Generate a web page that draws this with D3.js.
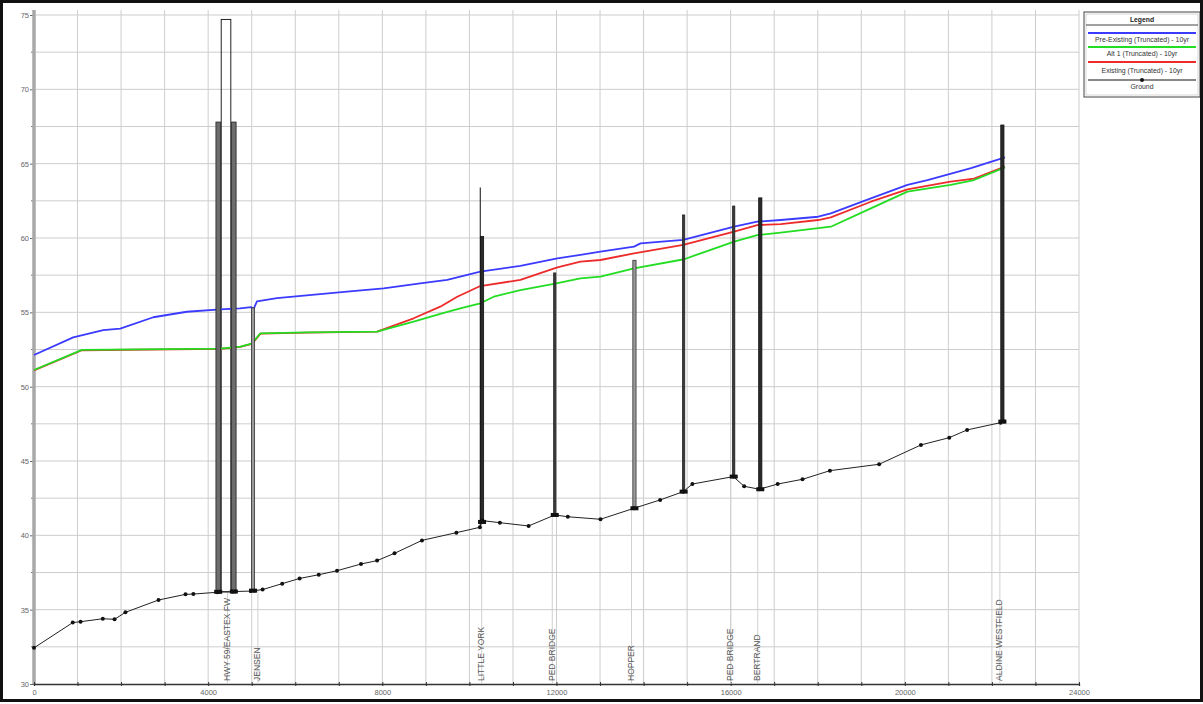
<!DOCTYPE html>
<html>
<head>
<meta charset="utf-8">
<script src="https://cdn.jsdelivr.net/npm/d3@7"></script>
<style>
  body { margin: 0; background: #fff; }
  svg { display: block; font-family: "Liberation Sans", Arial, sans-serif; }
</style>
</head>
<body>
<svg id="chart" width="1203" height="704"></svg>
<script>
// ---- Profile data (station in ft, elevation in ft) ----
const groundSta  = [0, 890, 1070, 1580, 1850, 2100, 2860, 3480, 3660, 4210, 4250, 4560, 4620, 4980, 5060, 5250, 5700, 6100, 6540, 6960, 7510, 7880, 8280, 8910, 9700, 10240, 10300, 10700, 11360, 11960, 12260, 13010, 13780, 14380, 14910, 15120, 16060, 16310, 16660, 17080, 17650, 18280, 19410, 20370, 21020, 21430, 22200, 22280];
const groundElev = [32.43, 34.13, 34.19, 34.39, 34.35, 34.82, 35.65, 36.03, 36.05, 36.17, 36.2, 36.2, 36.22, 36.25, 36.28, 36.35, 36.75, 37.1, 37.35, 37.62, 38.07, 38.3, 38.79, 39.66, 40.18, 40.54, 40.99, 40.85, 40.63, 41.37, 41.25, 41.08, 41.82, 42.38, 42.94, 43.45, 43.95, 43.3, 43.1, 43.45, 43.77, 44.35, 44.78, 46.08, 46.57, 47.09, 47.58, 47.65];

const preSta  = [0, 900, 1590, 1980, 2740, 3510, 4280, 4730, 4990, 5040, 5120, 5580, 7190, 8030, 8870, 9490, 10250, 11170, 12020, 12550, 13010, 13780, 13930, 14910, 16080, 16610, 17150, 18010, 18300, 19220, 20060, 20520, 21520, 22300];
const preElev = [52.13, 53.32, 53.81, 53.9, 54.67, 55.04, 55.2, 55.27, 55.35, 55.2, 55.73, 55.95, 56.39, 56.61, 56.95, 57.18, 57.74, 58.12, 58.63, 58.86, 59.08, 59.42, 59.64, 59.87, 60.76, 61.1, 61.21, 61.43, 61.66, 62.67, 63.57, 63.9, 64.7, 65.42];

const altSta  = [0, 1100, 4280, 4740, 5000, 5040, 5200, 6270, 7880, 8720, 9330, 9790, 10250, 10560, 11170, 11940, 12550, 13010, 13780, 14930, 15310, 16080, 16610, 17150, 18300, 19220, 20060, 21050, 21590, 22300];
const altElev = [51.12, 52.47, 52.56, 52.69, 52.9, 53.03, 53.59, 53.65, 53.7, 54.37, 54.89, 55.27, 55.61, 56.05, 56.5, 56.91, 57.29, 57.4, 57.96, 58.57, 58.97, 59.75, 60.2, 60.36, 60.76, 61.99, 63.12, 63.57, 63.9, 64.75];

const exSta  = [0, 1100, 4280, 4740, 5000, 5040, 5200, 6270, 7880, 8720, 9330, 9720, 10250, 11170, 12020, 12550, 13010, 13780, 14910, 16080, 16610, 17150, 18010, 18300, 19220, 20060, 21050, 21590, 22300];
const exElev = [51.1, 52.45, 52.54, 52.67, 52.88, 53.0, 53.57, 53.63, 53.7, 54.6, 55.38, 56.05, 56.77, 57.18, 58.03, 58.41, 58.52, 58.97, 59.53, 60.43, 60.87, 60.94, 61.21, 61.39, 62.44, 63.27, 63.79, 64.0, 64.8];

// ---- Crossing structures (deck lines) ----
const deckSta    = [4230, 4590, 5030, 10290, 11960, 13790, 14920, 16070, 16680, 22240];
const deckTop    = [67.8, 67.8, 55.3, 60.1, 57.65, 58.5, 61.55, 62.15, 62.7, 67.6];
const deckBottom = [36.2, 36.22, 36.28, 40.9, 41.37, 41.82, 42.94, 43.95, 43.1, 47.65];
const deckKind   = ["wide", "wide", "grey", "heavy", "thin", "grey", "thin", "thin", "heavy", "heavy"];

// outline of the freeway crossing between the two piers
const hwyBox = { from: 4300, to: 4520, top: 74.7, bottom: 36.2 };
// tall rail over the Little York crossing
const lyRail = { sta: 10250, top: 63.4, bottom: 40.6 };

// labels along the bottom of the profile
const labelText = ["HWY 59/EASTEX FW", "JENSEN", "LITTLE YORK", "PED BRIDGE", "HOPPER", "PED BRIDGE", "BERTRAND", "ALDINE WESTFIELD"];
const labelSta  = [4500, 5200, 10340, 11960, 13780, 16060, 16680, 22240];
const labelGround = [36.2, 36.35, 40.99, 41.37, 41.82, 43.95, 43.1, 47.65];

const xTicks = [0, 4000, 8000, 12000, 16000, 20000, 24000];
const yTicks = [30, 35, 40, 45, 50, 55, 60, 65, 70, 75];

const legendLabels = ["Pre-Existing (Truncated) - 10yr", "Alt 1 (Truncated) - 10yr", "Existing (Truncated) - 10yr", "Ground"];
const legendColors = ["#3b3bff", "#22dd22", "#ee2b2b", "#111"];

// ---- Drawing ----
const svg = d3.select("#chart");
const x = d3.scaleLinear([0, 24000], [34, 1079]);
const y = d3.scaleLinear([30, 75], [684, 15]);
const plotTop = 10;

svg.append("rect").attr("width", 1203).attr("height", 704).attr("fill", "#fff");

// grid
const grid = svg.append("g").attr("stroke", "#cdcdcd").attr("stroke-width", 1);
grid.selectAll(".vg").data(d3.range(1000, 24001, 1000)).join("line")
  .attr("x1", d => x(d)).attr("x2", d => x(d))
  .attr("y1", plotTop).attr("y2", y(30));
grid.selectAll(".hg").data(d3.range(32.5, 75.1, 2.5)).join("line")
  .attr("x1", x(0)).attr("x2", x(24000))
  .attr("y1", d => y(d)).attr("y2", d => y(d));

// axes
const yAxis = svg.append("g").attr("transform", `translate(${x(0)},0)`)
  .call(d3.axisLeft(y).tickValues(yTicks).tickSize(4).tickFormat(d3.format("d")));
yAxis.select(".domain").remove();
yAxis.selectAll("line").attr("stroke", "#666");
yAxis.selectAll("text").attr("fill", "#666").attr("font-size", 7.5).attr("x", -5);
svg.append("g").attr("fill", "#777").selectAll("rect").data(d3.range(32.5, 75, 5)).join("rect")
  .attr("x", x(0) - 3).attr("y", d => y(d) - 0.5).attr("width", 3).attr("height", 1);
svg.append("line").attr("x1", x(0)).attr("x2", x(0)).attr("y1", plotTop).attr("y2", y(30))
  .attr("stroke", "#a8a8a8").attr("stroke-width", 3.5);

const xAxis = svg.append("g").attr("transform", `translate(0,${y(30)})`)
  .call(d3.axisBottom(x).tickValues(d3.range(0, 24001, 1000)).tickSize(2).tickFormat(d => xTicks.includes(d) ? d : ""));
xAxis.select(".domain").attr("stroke", "#333").attr("stroke-width", 1.3);
xAxis.selectAll("line").attr("stroke", "#333").attr("y1", -2);
xAxis.selectAll("text").attr("fill", "#666").attr("font-size", 7.5).attr("y", 6);

// station label guide lines and rotated labels
const labs = svg.append("g");
labs.selectAll("line").data(labelSta).join("line")
  .attr("x1", d => x(d) - 2.5).attr("x2", d => x(d) - 2.5)
  .attr("y1", (d, i) => y(labelGround[i])).attr("y2", y(30))
  .attr("stroke", "#d0d0d0").attr("stroke-width", 1);
labs.selectAll("text").data(labelText).join("text")
  .attr("transform", (d, i) => `translate(${x(labelSta[i])},${y(30) - 3}) rotate(-90)`)
  .attr("font-size", 8.5).attr("fill", "#555").attr("text-anchor", "start")
  .text(d => d);

// freeway crossing outline
svg.append("rect")
  .attr("x", x(hwyBox.from)).attr("y", y(hwyBox.top))
  .attr("width", x(hwyBox.to) - x(hwyBox.from)).attr("height", y(hwyBox.bottom) - y(hwyBox.top))
  .attr("fill", "none").attr("stroke", "#222").attr("stroke-width", 1);

// water surface profiles
const line = d3.line().x(d => x(d[0])).y(d => y(d[1]));
const profiles = [
  { sta: exSta, elev: exElev, color: legendColors[2] },
  { sta: altSta, elev: altElev, color: legendColors[1] },
  { sta: preSta, elev: preElev, color: legendColors[0] }
];
profiles.forEach(p => {
  svg.append("path").datum(d3.zip(p.sta, p.elev)).attr("d", line)
    .attr("fill", "none").attr("stroke", p.color).attr("stroke-width", 1.8)
    .attr("stroke-linejoin", "round");
});

// crossing structures
const kindStyle = {
  wide:  { w: 4.5, fill: "#6d6d6d", stroke: "#222" },
  grey:  { w: 3.2, fill: "#9a9a9a", stroke: "#333" },
  heavy: { w: 3.2, fill: "#2a2a2a", stroke: "#111" },
  thin:  { w: 2.2, fill: "#3a3a3a", stroke: "#222" }
};
svg.append("line")
  .attr("x1", x(lyRail.sta)).attr("x2", x(lyRail.sta))
  .attr("y1", y(lyRail.top)).attr("y2", y(lyRail.bottom))
  .attr("stroke", "#333").attr("stroke-width", 1.2);
svg.append("g").selectAll("rect").data(deckSta).join("rect")
  .attr("x", (d, i) => x(d) - kindStyle[deckKind[i]].w / 2)
  .attr("y", (d, i) => y(deckTop[i]))
  .attr("width", (d, i) => kindStyle[deckKind[i]].w)
  .attr("height", (d, i) => y(deckBottom[i]) - y(deckTop[i]))
  .attr("fill", (d, i) => kindStyle[deckKind[i]].fill)
  .attr("stroke", (d, i) => kindStyle[deckKind[i]].stroke)
  .attr("stroke-width", 0.8);

// ground profile
svg.append("path").datum(d3.zip(groundSta, groundElev)).attr("d", line)
  .attr("fill", "none").attr("stroke", "#222").attr("stroke-width", 1);
svg.append("g").selectAll("circle").data(d3.zip(groundSta, groundElev)).join("circle")
  .attr("cx", d => x(d[0])).attr("cy", d => y(d[1])).attr("r", 2).attr("fill", "#111");
svg.append("g").selectAll("rect").data(deckSta).join("rect")
  .attr("x", d => x(d) - 4).attr("y", (d, i) => y(deckBottom[i]) - 2)
  .attr("width", 8).attr("height", 4).attr("fill", "#111");

// legend
const lg = svg.append("g").attr("transform", "translate(1084,12)");
lg.append("rect").attr("width", 116).attr("height", 85).attr("fill", "#fff").attr("stroke", "#444").attr("stroke-width", 1);
lg.append("rect").attr("x", 2).attr("y", 2).attr("width", 112).attr("height", 81).attr("fill", "none").attr("stroke", "#bbb").attr("stroke-width", 0.6);
lg.append("text").attr("x", 58).attr("y", 10).attr("text-anchor", "middle").attr("font-size", 6.8).attr("font-weight", "bold").attr("fill", "#222").text("Legend");
lg.append("line").attr("x1", 2).attr("x2", 114).attr("y1", 13).attr("y2", 13).attr("stroke", "#444").attr("stroke-width", 1);
const rowLineY = [21, 35, 50, 68];
const rowTextY = [30, 44, 61, 77];
legendLabels.forEach((t, i) => {
  lg.append("line").attr("x1", 4).attr("x2", 112).attr("y1", rowLineY[i]).attr("y2", rowLineY[i])
    .attr("stroke", legendColors[i]).attr("stroke-width", i === 3 ? 1 : 1.8);
  if (i === 3) lg.append("circle").attr("cx", 58).attr("cy", rowLineY[i]).attr("r", 2).attr("fill", "#111");
  lg.append("text").attr("x", 58).attr("y", rowTextY[i]).attr("text-anchor", "middle")
    .attr("font-size", 6.9).attr("fill", "#333").text(t);
});

// outer frame
svg.append("rect").attr("x", 1.5).attr("y", 1.5).attr("width", 1200).attr("height", 699)
  .attr("fill", "none").attr("stroke", "#111").attr("stroke-width", 3);
</script>
</body>
</html>
